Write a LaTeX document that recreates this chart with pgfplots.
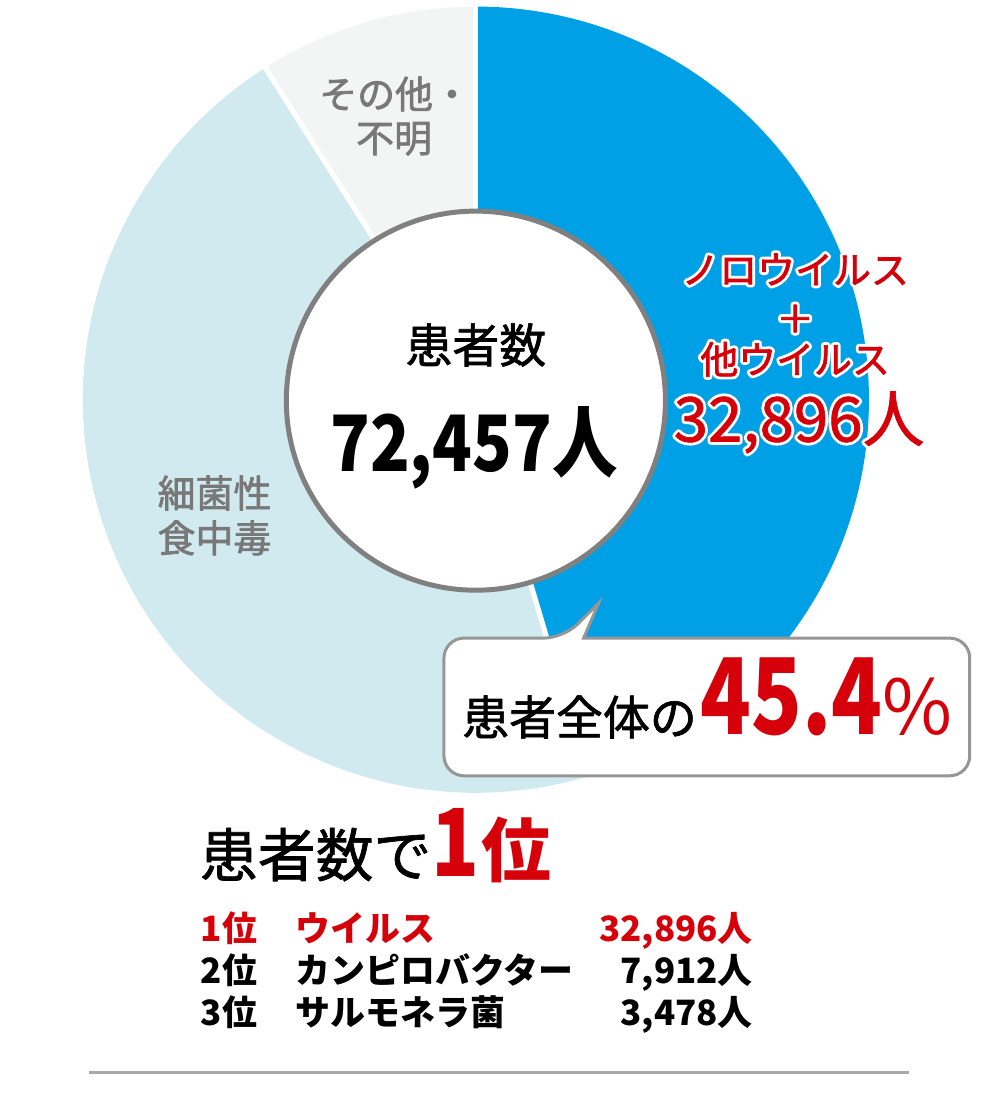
\documentclass[border=0pt]{standalone}
\usepackage{pgfplots}
\pgfplotsset{compat=1.18}
\usepackage{pgfplotstable}
\usepackage{fontspec}
\setmainfont{Noto Sans CJK JP}
\newfontfamily\cond{Noto Sans CJK JP}[FakeStretch=0.84]
\newfontfamily\condx{Noto Sans CJK JP}[FakeStretch=0.79]
\definecolor{cBlue}{RGB}{0,160,230}
\definecolor{cLight}{RGB}{209,234,240}
\definecolor{cGray}{RGB}{243,245,245}
\definecolor{cRing}{RGB}{128,128,128}
\definecolor{cRed}{RGB}{214,0,10}
\definecolor{cLabel}{RGB}{120,120,120}
\definecolor{cBubble}{RGB}{150,150,150}
\definecolor{cRule}{RGB}{168,168,168}
\newcommand\fs[1]{\fontsize{#1}{#1}\selectfont}
% slightly heavier weight (fill + thin stroke in the text colour)
\newcommand\med[1]{\special{pdf:literal direct 2 Tr 0.35 w 1 j}#1\special{pdf:literal direct 0 Tr}}

% patients by cause
\pgfplotstableread{
cause    patients
virus    32896
bacteria 33040
other    6521
}\piedata
\pgfplotstablegetelem{0}{patients}\of\piedata\edef\vA{\pgfplotsretval}
\pgfplotstablegetelem{1}{patients}\of\piedata\edef\vB{\pgfplotsretval}
\pgfplotstablegetelem{2}{patients}\of\piedata\edef\vC{\pgfplotsretval}
\edef\total{\fpeval{\vA+\vB+\vC}}
\edef\aA{\fpeval{90-\vA/\total*360}}
\edef\aB{\fpeval{\aA-\vB/\total*360}}

% text with a white outline: x, y, font, colour, text
\newcommand\halo[5]{%
  \node[anchor=base,inner sep=0pt,font={#3},text=white] at (axis cs:#1,#2)
    {\special{pdf:literal direct 1 Tr 3.2 w 1 j}#5\special{pdf:literal direct 0 Tr}};
  \node[anchor=base,inner sep=0pt,font={#3},text=#4] at (axis cs:#1,#2) {\med{#5}};
}

\begin{document}
\begin{tikzpicture}
\begin{axis}[width=500pt,height=550pt,scale only axis,
  xmin=0,xmax=1000,ymin=0,ymax=1100,y dir=reverse,
  hide axis,clip=false]
\path (axis cs:0,0) rectangle (axis cs:1000,1100);
% donut sectors
\fill[cBlue]  (axis cs:477,398) -- ++(90:197pt) arc[start angle=90,end angle=\aA,radius=197pt] -- cycle;
\fill[cLight] (axis cs:477,398) -- ++(\aA:197pt) arc[start angle=\aA,end angle=\aB,radius=197pt] -- cycle;
\fill[cGray]  (axis cs:477,398) -- ++(\aB:197pt) arc[start angle=\aB,end angle=-270,radius=197pt] -- cycle;
\draw[white,line width=2.6pt] (axis cs:477,398) -- ++(90:199pt);
\draw[white,line width=2.6pt] (axis cs:477,398) -- ++(\aA:199pt);
\draw[white,line width=2.6pt] (axis cs:477,398) -- ++(\aB:199pt);
\draw[cRing,line width=2.5pt,fill=white] (axis cs:477,399) circle[radius=95pt];

% sector labels
\node[anchor=base,inner sep=0pt,font=\fs{19},text=cLabel] at (axis cs:396,106) {\med{その他・}};
\node[anchor=base,inner sep=0pt,font=\fs{19},text=cLabel] at (axis cs:395,150) {\med{不明}};
\node[anchor=base,inner sep=0pt,font=\fs{19},text=cLabel] at (axis cs:215,506) {\med{細菌性}};
\node[anchor=base,inner sep=0pt,font=\fs{19},text=cLabel] at (axis cs:215,551) {\med{食中毒}};
\halo{797}{282}{\fs{19}}{cRed}{ノロウイルス}
\halo{797}{331}{\fs{19}}{cRed}{＋}
\halo{797}{372}{\fs{19}}{cRed}{他ウイルス}
\halo{801}{440}{\fs{31}}{cRed}{32,896人}

% centre
\node[anchor=base,inner sep=0pt,font=\fs{23.5}] at (axis cs:477,361) {\med{患者数}};
\node[anchor=base,inner sep=0pt,font=\cond\bfseries\fs{39}] at (axis cs:475,470) {72,457人};

% speech bubble
\draw[cBubble,line width=1.5pt,fill=white,rounded corners=10pt]
  (axis cs:565,637) [sharp corners] -- (axis cs:600,602) -- (axis cs:585,637)
  [rounded corners=10pt] -- (axis cs:972,637) -- (axis cs:972,775)
  -- (axis cs:445,775) -- (axis cs:445,637) -- cycle;
\node[anchor=base west,inner sep=0pt] at (axis cs:463,734)
  {{\fs{23.5}\med{患者全体の}}\hspace{2pt}{\condx\bfseries\fs{53}\color{cRed}45.4}{\fs{38}\color{cRed}\%}};

% ranking
\node[anchor=base west,inner sep=0pt] at (axis cs:200,876)
  {{\fs{29}\med{患者数で}}{\cond\bfseries\fs{47}\color{cRed}1}\hspace{1pt}{\bfseries\fs{35}\color{cRed}位}};
\node[anchor=base west,inner sep=0pt,font=\bfseries\fs{17.5},text=cRed] at (axis cs:201,941) {1位};
\node[anchor=base west,inner sep=0pt,font=\bfseries\fs{17.5},text=cRed] at (axis cs:296,941) {ウイルス};
\node[anchor=base east,inner sep=0pt,font=\bfseries\fs{17.5},text=cRed] at (axis cs:755,941) {32,896人};
\node[anchor=base west,inner sep=0pt,font=\bfseries\fs{17.5}] at (axis cs:201,983) {2位};
\node[anchor=base west,inner sep=0pt,font=\bfseries\fs{17.5}] at (axis cs:296,983) {カンピロバクター};
\node[anchor=base east,inner sep=0pt,font=\bfseries\fs{17.5}] at (axis cs:755,983) {7,912人};
\node[anchor=base west,inner sep=0pt,font=\bfseries\fs{17.5}] at (axis cs:201,1025) {3位};
\node[anchor=base west,inner sep=0pt,font=\bfseries\fs{17.5}] at (axis cs:296,1025) {サルモネラ菌};
\node[anchor=base east,inner sep=0pt,font=\bfseries\fs{17.5}] at (axis cs:755,1025) {3,478人};

\draw[cRule,line width=1.5pt] (axis cs:89,1072) -- (axis cs:911,1072);
\end{axis}
\end{tikzpicture}
\end{document}
